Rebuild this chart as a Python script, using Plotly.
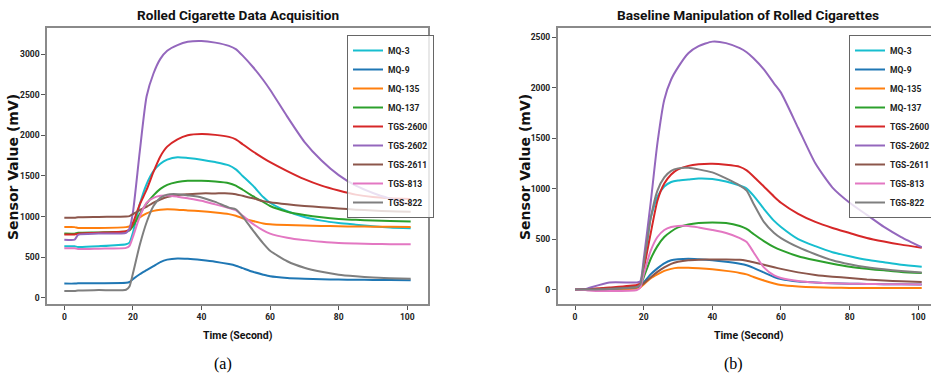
import plotly.graph_objects as go

# Time axis (seconds)
time_s = [0, 3, 4, 10, 18, 19, 20, 22, 24, 26, 28, 30, 33, 36, 40, 44, 48, 50, 52, 55,
          58, 60, 65, 70, 75, 80, 85, 90, 95, 101]

sensors = ["MQ-3", "MQ-9", "MQ-135", "MQ-137", "TGS-2600", "TGS-2602", "TGS-2611", "TGS-813", "TGS-822"]
colors = ["#17becf", "#1f77b4", "#ff7f0e", "#2ca02c", "#d62728", "#9467bd", "#8c564b", "#e377c2", "#7f7f7f"]

# (a) Rolled cigarette data acquisition (mV)
raw_mq3 = [635, 635, 625, 635, 660, 680, 800, 1150, 1400, 1560, 1650, 1700, 1730, 1720, 1700, 1670, 1630, 1580, 1500, 1380,
           1240, 1170, 1065, 995, 950, 920, 900, 880, 865, 855]
raw_mq9 = [175, 175, 178, 180, 185, 195, 230, 290, 340, 390, 440, 470, 485, 480, 465, 445, 415, 395, 365, 320,
           285, 265, 245, 235, 228, 225, 222, 220, 218, 215]
raw_mq135 = [870, 870, 860, 860, 870, 880, 920, 990, 1040, 1070, 1085, 1090, 1085, 1075, 1065, 1050, 1030, 1010, 980, 945,
             915, 905, 895, 890, 885, 880, 878, 876, 875, 872]
raw_mq137 = [790, 790, 800, 805, 815, 830, 880, 1030, 1160, 1260, 1340, 1390, 1425, 1440, 1440, 1430, 1410, 1380, 1330, 1250,
             1180, 1130, 1060, 1020, 990, 970, 960, 950, 945, 940]
raw_tgs2600 = [780, 780, 790, 800, 820, 840, 920, 1150, 1330, 1550, 1740, 1860, 1950, 2000, 2015, 2005, 1980, 1950, 1890, 1800,
               1720, 1670, 1560, 1460, 1380, 1320, 1270, 1240, 1225, 1215]
raw_tgs2602 = [715, 715, 775, 790, 800, 850, 1050, 1800, 2480, 2760, 2940, 3040, 3110, 3150, 3160, 3140, 3100, 3060, 2980, 2840,
               2680, 2560, 2230, 1920, 1690, 1510, 1380, 1290, 1220, 1150]
raw_tgs2611 = [985, 985, 990, 995, 1000, 1005, 1030, 1080, 1120, 1170, 1210, 1240, 1265, 1275, 1285, 1285, 1285, 1275, 1255, 1225,
               1190, 1175, 1150, 1130, 1115, 1100, 1085, 1075, 1065, 1060]
raw_tgs813 = [610, 610, 600, 605, 615, 640, 750, 1000, 1170, 1230, 1255, 1260, 1245, 1225, 1195, 1150, 1105, 1080, 1010, 910,
              830, 790, 740, 710, 690, 675, 668, 663, 660, 660]
raw_tgs822 = [85, 85, 90, 95, 100, 140, 300, 650, 930, 1130, 1230, 1270, 1275, 1260, 1235, 1180, 1110, 1090, 1000, 830,
              670, 580, 450, 370, 320, 285, 265, 250, 242, 235]

# (b) Baseline manipulation of rolled cigarettes (mV)
base_mq3 = [0, 0, 0, 10, 30, 50, 200, 700, 920, 1020, 1065, 1080, 1090, 1100, 1095, 1070, 1030, 1000, 930, 800,
            680, 620, 500, 430, 370, 330, 295, 270, 245, 225]
base_mq9 = [0, 0, 0, 5, 20, 30, 70, 150, 210, 260, 290, 300, 305, 300, 290, 275, 255, 240, 215, 170,
            125, 105, 80, 70, 62, 58, 55, 53, 52, 50]
base_mq135 = [0, 0, -5, 0, 10, 20, 50, 110, 150, 185, 205, 215, 215, 210, 200, 185, 165, 150, 125, 90,
              60, 45, 30, 22, 18, 16, 15, 15, 15, 15]
base_mq137 = [0, 0, 0, 10, 25, 40, 120, 300, 430, 520, 575, 615, 645, 660, 665, 660, 630, 600, 550, 480,
              420, 390, 330, 290, 255, 225, 205, 190, 175, 165]
base_tgs2600 = [0, 0, 5, 20, 45, 60, 200, 550, 880, 1050, 1140, 1190, 1225, 1240, 1245, 1235, 1215, 1180, 1120, 1020,
                920, 860, 750, 670, 610, 560, 510, 475, 445, 415]
base_tgs2602 = [0, 5, 15, 70, 70, 80, 300, 850, 1450, 1880, 2080, 2200, 2340, 2410, 2455, 2440, 2390, 2350, 2290, 2180,
                2040, 1950, 1600, 1250, 1010, 860, 740, 620, 520, 420]
base_tgs2611 = [0, 0, 0, 10, 25, 35, 60, 120, 175, 220, 255, 275, 290, 295, 298, 298, 295, 285, 270, 245,
                220, 205, 170, 145, 128, 115, 100, 90, 82, 75]
base_tgs813 = [0, -5, -10, -15, -5, 20, 150, 380, 520, 590, 620, 630, 630, 615, 590, 560, 510, 470, 370, 220,
               140, 115, 85, 70, 62, 58, 55, 53, 52, 50]
base_tgs822 = [0, 0, 0, 5, 25, 50, 250, 700, 980, 1110, 1175, 1200, 1205, 1190, 1160, 1100, 1030, 980, 850, 670,
               560, 510, 420, 350, 290, 250, 220, 200, 185, 170]

raw_series = [raw_mq3, raw_mq9, raw_mq135, raw_mq137, raw_tgs2600, raw_tgs2602, raw_tgs2611, raw_tgs813, raw_tgs822]
base_series = [base_mq3, base_mq9, base_mq135, base_mq137, base_tgs2600, base_tgs2602, base_tgs2611, base_tgs813, base_tgs822]

NARROW = "Roboto, Liberation Sans, sans-serif"
W, H = 931, 380
ML, MR, MT, MB = 47, 0, 28, 76
PW = W - ML - MR
PH = H - MT - MB

def px_x(p):
    return (p - ML) / PW

def px_y(p):
    return (H - MB - p) / PH

fig = go.Figure()
for name, col, ya, yb in zip(sensors, colors, raw_series, base_series):
    fig.add_trace(go.Scatter(x=time_s, y=ya, name=name, mode="lines",
                             line=dict(color=col, width=2, shape="spline", smoothing=0.6),
                             xaxis="x", yaxis="y", legend="legend"))
    fig.add_trace(go.Scatter(x=time_s, y=yb, name=name, mode="lines",
                             line=dict(color=col, width=2, shape="spline", smoothing=0.6),
                             xaxis="x2", yaxis="y2", legend="legend2"))

axis_common = dict(showline=True, mirror=True, linecolor="#8a8a8a", linewidth=1.5,
                   ticks="outside", ticklen=4, tickwidth=1, tickcolor="#555",
                   showgrid=False, zeroline=False,
                   tickfont=dict(family=NARROW, size=8.5, color="#222", weight="bold"))

legend_common = dict(xanchor="left", yanchor="top",
                     bgcolor="rgba(255,255,255,0.8)", bordercolor="#666", borderwidth=1,
                     font=dict(family=NARROW, size=8.5, color="#222", weight="bold"),
                     itemwidth=30, tracegroupgap=0)

fig.update_layout(
    width=W, height=H,
    margin=dict(l=ML, r=MR, t=MT, b=MB, autoexpand=False),
    paper_bgcolor="white", plot_bgcolor="white",
    xaxis=dict(domain=[0, px_x(428)], range=[-5.05, 106.05], dtick=20, anchor="y", **axis_common),
    yaxis=dict(domain=[0, 1], range=[-76, 3320], dtick=500, anchor="x", **axis_common),
    xaxis2=dict(domain=[px_x(557.7), 1], range=[-5.05, 103.7], dtick=20, anchor="y2", **axis_common),
    yaxis2=dict(domain=[0, 1], range=[-143, 2590], dtick=500, anchor="x2", **axis_common),
    legend=dict(x=px_x(347), y=px_y(35), **legend_common),
    legend2=dict(x=px_x(849), y=px_y(35), **legend_common),
    showlegend=True,
)

def ann(text, x, y, size, family, bold=True, angle=0, color="#111"):
    fig.add_annotation(text=text, x=px_x(x), y=px_y(y), xref="paper", yref="paper",
                       xanchor="center", yanchor="middle", showarrow=False, textangle=angle,
                       font=dict(family=family, size=size, color=color, weight="bold" if bold else "normal"))

ann("Rolled Cigarette Data Acquisition", 237.5, 15, 13.6, NARROW)
ann("Baseline Manipulation of Rolled Cigarettes", 748, 15, 13.7, NARROW)
ann("Time (Second)", 237.5, 335, 10.5, NARROW)
ann("Time (Second)", 748.5, 335, 10.5, NARROW)
ann("Sensor Value (mV)", 13, 167, 14, "DejaVu Sans", angle=-90)
ann("Sensor Value (mV)", 525, 167, 14, "DejaVu Sans", angle=-90)
ann("(a)", 222.5, 364, 16, "Liberation Serif", bold=False, color="#000")
ann("(b)", 733, 364, 16, "Liberation Serif", bold=False, color="#000")

fig.write_html("out.html")
